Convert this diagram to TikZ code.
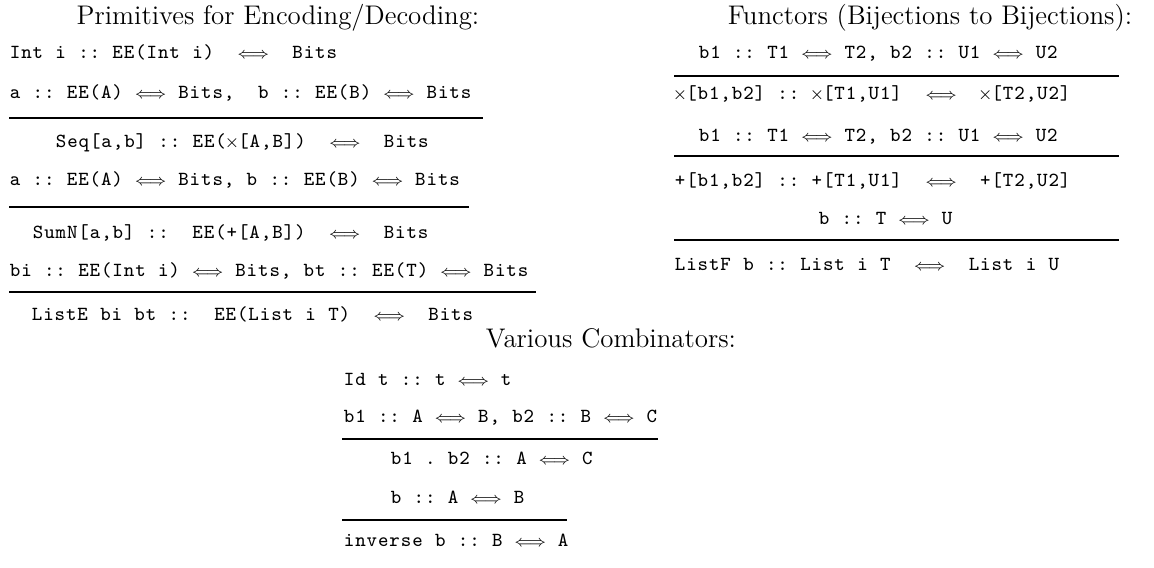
\documentclass[tikz,border=0pt]{standalone}
% typewriter judgements: each character centred in a fixed 5.25pt column
\newcommand\iso{{\scriptsize$\Longleftrightarrow$}}
\newcommand\tms{{\footnotesize$\times$}}
\makeatletter
\def\cc#1{\cc@#1\cc@end}
\def\cc@#1{\ifx#1\cc@end\else\cc@put{#1}\expandafter\cc@\fi}
\def\cc@put#1{\ifx#1\iso\iso\else\makebox[5.25pt][c]{#1}\fi}
\makeatother
\begin{document}
\begin{tikzpicture}[x=0.4605pt,y=-0.4605pt,
  code/.style={anchor=base west,inner sep=0pt,font=\ttfamily\fontsize{9.2}{11}\selectfont},
  head/.style={anchor=base,inner sep=0pt,font=\fontsize{12.4}{15}\selectfont},
  bar/.style={line width=0.7pt}]
\useasboundingbox (0,0) rectangle (1154,567);

% encoding / decoding primitives
\node[head] (t1) at (278,24) {Primitives for Encoding/Decoding:};
\node[code] (int) at (9,58) {\cc{Int~i~::~EE(Int~i)~~\iso~~Bits}};
\node[code] (a1) at (9,98) {\cc{a~::~EE(A)~\iso~Bits,~~b~::~EE(B)~\iso~Bits}};
\draw[bar] (9,118) -- (483,118);
\node[code] (seq) at (55,147) {\cc{Seq[a,b]~::~EE(\tms[A,B])~~\iso~~Bits}};
\node[code] (a2) at (9,185) {\cc{a~::~EE(A)~\iso~Bits,~b~::~EE(B)~\iso~Bits}};
\draw[bar] (9,207) -- (469,207);
\node[code] (sumn) at (32,238) {\cc{SumN[a,b]~::~~EE(+[A,B])~~\iso~~Bits}};
\node[code] (bi) at (9,276) {\cc{bi~::~EE(Int~i)~\iso~Bits,~bt~::~EE(T)~\iso~Bits}};
\draw[bar] (9,292) -- (536,292);
\node[code] (liste) at (31,320) {\cc{ListE~bi~bt~::~~EE(List~i~T)~~\iso~~Bits}};

% functors
\node[head] (t2) at (930,24) {Functors (Bijections to Bijections):};
\node[code] (f1) at (698,58) {\cc{b1~::~T1~\iso~T2,~b2~::~U1~\iso~U2}};
\draw[bar] (674,76) -- (1119,76);
\node[code] (prod) at (674,99) {\cc{\tms[b1,b2]~::~\tms[T1,U1]~~\iso~~\tms[T2,U2]}};
\node[code] (f2) at (698,141) {\cc{b1~::~T1~\iso~T2,~b2~::~U1~\iso~U2}};
\draw[bar] (674,156) -- (1119,156);
\node[code] (sum) at (674,186) {\cc{+[b1,b2]~::~+[T1,U1]~~\iso~~+[T2,U2]}};
\node[code] (f3) at (818,224) {\cc{b~::~T~\iso~U}};
\draw[bar] (674,240) -- (1119,240);
\node[code] (listf) at (674,270) {\cc{ListF~b~::~List~i~T~~\iso~~List~i~U}};

% combinators
\node[head] (t3) at (611,347) {Various Combinators:};
\node[code] (id) at (343,385) {\cc{Id~t~::~t~\iso~t}};
\node[code] (c1) at (343,422) {\cc{b1~::~A~\iso~B,~b2~::~B~\iso~C}};
\draw[bar] (342,439) -- (658,439);
\node[code] (comp) at (390,464) {\cc{b1~.~b2~::~A~\iso~C}};
\node[code] (c2) at (390,503) {\cc{b~::~A~\iso~B}};
\draw[bar] (342,520) -- (567,520);
\node[code] (inv) at (343,546) {\cc{inverse~b~::~B~\iso~A}};
\end{tikzpicture}
\end{document}
